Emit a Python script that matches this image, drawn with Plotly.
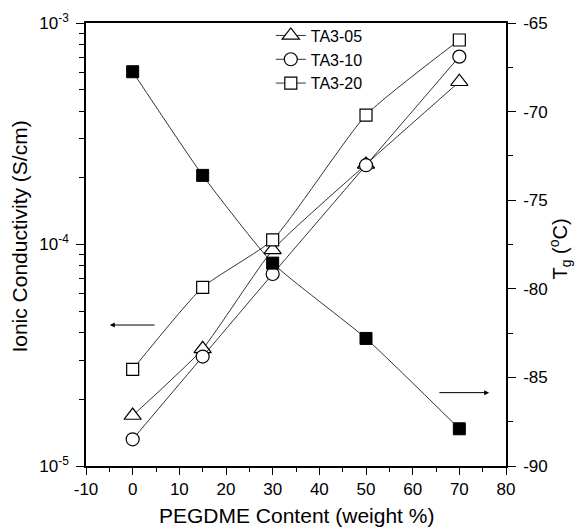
import numpy as np
import plotly.graph_objects as go

content = [0, 15, 30, 50, 70]
ta3_05 = [1.69e-5, 3.38e-5, 9.45e-5, 2.30e-4, 5.43e-4]
ta3_10 = [1.32e-5, 3.12e-5, 7.36e-5, 2.28e-4, 7.05e-4]
ta3_20 = [2.73e-5, 6.41e-5, 1.05e-4, 3.84e-4, 8.38e-4]
tg = [-67.75, -73.6, -78.55, -82.8, -87.9]

x_ticks = list(range(-10, 90, 10))
x_ticktext = [str(v) for v in x_ticks]
y_ticks = [1e-5, 1e-4, 1e-3]
y_ticktext = ["10<sup>-5</sup>", "10<sup>-4</sup>", "10<sup>-3</sup>"]
y2_ticks = list(range(-90, -64, 5))
y2_ticktext = [str(v) for v in y2_ticks]

x_title = "PEGDME Content (weight %)"
y_title = "Ionic Conductivity (S/cm)"
y2_title = "T<sub>g</sub> (<sup>o</sup>C)"

FONT = "Arial, Liberation Sans, Helvetica, sans-serif"

fig = go.Figure()
line_style = dict(color="black", width=0.8, shape="spline", smoothing=0.5)

fig.add_trace(go.Scatter(x=content, y=ta3_05, name="TA3-05", mode="lines+markers",
                         line=line_style,
                         marker=dict(symbol="triangle-up", size=15, color="white",
                                     line=dict(color="black", width=1.2))))
fig.add_trace(go.Scatter(x=content, y=ta3_10, name="TA3-10", mode="lines+markers",
                         line=line_style,
                         marker=dict(symbol="circle", size=13, color="white",
                                     line=dict(color="black", width=1.2))))
fig.add_trace(go.Scatter(x=content, y=ta3_20, name="TA3-20", mode="lines+markers",
                         line=line_style,
                         marker=dict(symbol="square", size=12, color="white",
                                     line=dict(color="black", width=1.2))))
fig.add_trace(go.Scatter(x=content, y=tg, name="Tg", mode="lines+markers", yaxis="y2",
                         showlegend=False, line=line_style,
                         marker=dict(symbol="square", size=12, color="black",
                                     line=dict(color="black", width=1))))

minor_log = [m * 10.0 ** e for e in (-5, -4) for m in range(2, 10)]

fig.update_layout(
    width=578, height=528,
    margin=dict(l=86, r=72, t=23, b=62),
    paper_bgcolor="white", plot_bgcolor="white",
    font=dict(family=FONT, size=17, color="black"),
    showlegend=True,
    legend=dict(x=0.44, y=1.01, xanchor="left", yanchor="top",
                bgcolor="rgba(0,0,0,0)", borderwidth=0,
                font=dict(size=16), itemwidth=30, tracegroupgap=0),
    xaxis=dict(range=[-10, 80], tickmode="array", tickvals=x_ticks, ticktext=x_ticktext,
               ticks="outside", ticklen=7, tickwidth=1.2, tickcolor="black",
               ticklabelstandoff=0, automargin=False,
               minor=dict(tickvals=list(range(-5, 80, 10)), ticks="outside", ticklen=4,
                          tickwidth=1.2, tickcolor="black"),
               showline=True, linecolor="black", linewidth=1.5, mirror=True,
               showgrid=False, zeroline=False,
               tickfont=dict(size=17)),
    yaxis=dict(type="log", range=[-5, -3], tickmode="array",
               tickvals=y_ticks, ticktext=y_ticktext,
               ticks="outside", ticklen=8, tickwidth=1.2, tickcolor="black",
               ticklabelstandoff=4, automargin=False,
               minor=dict(tickvals=minor_log, ticks="outside", ticklen=5,
                          tickwidth=1.2, tickcolor="black"),
               showline=True, linecolor="black", linewidth=1.5, mirror=False,
               showgrid=False, zeroline=False,
               tickfont=dict(size=17)),
    yaxis2=dict(overlaying="y", side="right", range=[-90, -65], tickmode="array",
                tickvals=y2_ticks, ticktext=y2_ticktext,
                ticks="outside", ticklen=8, tickwidth=1.2, tickcolor="black",
                ticklabelstandoff=4, automargin=False,
                minor=dict(tickvals=[-87.5, -82.5, -77.5, -72.5, -67.5], ticks="outside",
                           ticklen=5, tickwidth=1.2, tickcolor="black"),
                showline=True, linecolor="black", linewidth=1.5,
                showgrid=False, zeroline=False,
                tickfont=dict(size=17)),
)

# axis titles
fig.add_annotation(text=x_title, xref="paper", yref="paper", x=0.5, y=-0.111,
                   xanchor="center", yanchor="middle", showarrow=False, borderpad=0,
                   font=dict(size=21))
fig.add_annotation(text=y_title, xref="paper", yref="paper", x=-0.158, y=0.517,
                   xanchor="center", yanchor="middle", textangle=-90, showarrow=False,
                   borderpad=0, font=dict(size=21))
fig.add_annotation(text=y2_title, xref="paper", yref="paper", x=1.13, y=0.49,
                   xanchor="center", yanchor="middle", textangle=-90, showarrow=False,
                   borderpad=0, font=dict(size=20))

# direction arrows
fig.add_annotation(x=-4.9, y=np.log10(4.33e-5), ax=5.0, ay=np.log10(4.33e-5),
                   xref="x", yref="y", axref="x", ayref="y", text="",
                   showarrow=True, arrowhead=2, arrowsize=1, arrowwidth=1, arrowcolor="black")
fig.add_annotation(x=76.4, y=-85.86, ax=65.4, ay=-85.86,
                   xref="x", yref="y2", axref="x", ayref="y2", text="",
                   showarrow=True, arrowhead=2, arrowsize=1, arrowwidth=1, arrowcolor="black")

fig.write_html("out.html")
